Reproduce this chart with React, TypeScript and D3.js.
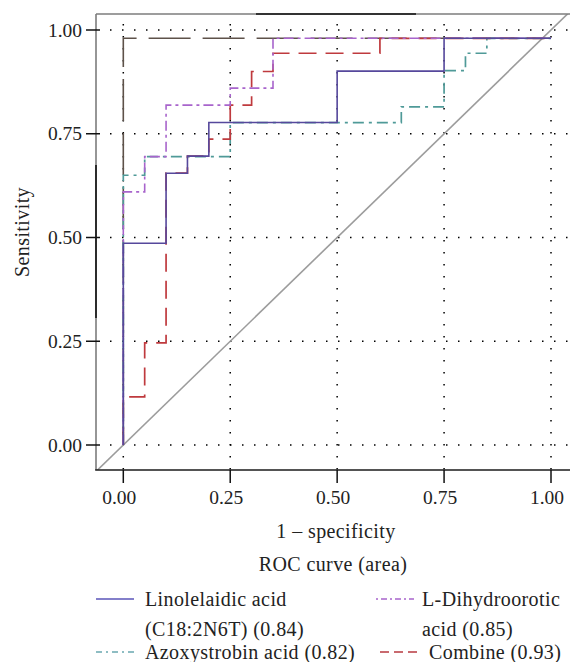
import * as d3 from 'd3';
import React, { useEffect, useRef } from 'react';

// ROC step points (1 - specificity, sensitivity)
const linoFpr = [0, 0, 0.1, 0.15, 0.2, 0.5, 0.75, 1.0];
const linoTpr = [0, 0.486, 0.655, 0.696, 0.777, 0.901, 0.98, 0.98];

const dihydroFpr = [0, 0, 0.05, 0.1, 0.25, 0.35, 1.0];
const dihydroTpr = [0, 0.61, 0.695, 0.819, 0.86, 0.98, 0.98];

const azoxFpr = [0, 0, 0.05, 0.25, 0.65, 0.75, 0.8, 0.85, 1.0];
const azoxTpr = [0, 0.65, 0.695, 0.777, 0.815, 0.902, 0.944, 0.98, 0.98];

const combineFpr = [0, 0, 0.05, 0.1, 0.15, 0.2, 0.25, 0.3, 0.35, 0.6, 1.0];
const combineTpr = [0, 0.116, 0.246, 0.655, 0.696, 0.737, 0.819, 0.9, 0.944, 0.98, 0.98];

// unlabelled long-dash trace along the left and top
const extraFpr = [0, 0, 1.0];
const extraTpr = [0, 0.98, 0.98];

const tickValues = [0, 0.25, 0.5, 0.75, 1.0];
const tickLabels = ['0.00', '0.25', '0.50', '0.75', '1.00'];

const legendNames = [
  ['Linolelaidic acid', '(C18:2N6T) (0.84)'],
  ['L-Dihydroorotic', 'acid (0.85)'],
  ['Azoxystrobin acid (0.82)'],
  ['Combine (0.93)'],
];

const FONT = '"Liberation Serif", "Times New Roman", serif';

const App: React.FC = () => {
  const ref = useRef<SVGSVGElement | null>(null);

  useEffect(() => {
    if (!ref.current) return;
    const svg = d3.select(ref.current);
    svg.selectAll('*').remove();

    const W = 570;
    const plot = { left: 96, top: 14, right: 575, bottom: 470 };

    const x = d3.scaleLinear().domain([0, 1]).range([123.3, 551]);
    const y = d3.scaleLinear().domain([0, 1]).range([445, 30]);

    svg
      .append('defs')
      .append('clipPath')
      .attr('id', 'plotclip')
      .append('rect')
      .attr('x', plot.left)
      .attr('y', plot.top)
      .attr('width', plot.right - plot.left)
      .attr('height', plot.bottom - plot.top);

    // dotted grid
    const grid = svg.append('g');
    grid
      .selectAll('line.h')
      .data(tickValues)
      .enter()
      .append('line')
      .attr('x1', plot.left + 14)
      .attr('x2', W)
      .attr('y1', (d) => y(d))
      .attr('y2', (d) => y(d))
      .attr('stroke', '#000')
      .attr('stroke-width', 1.5)
      .attr('stroke-dasharray', '1.5 10.5');
    grid
      .selectAll('line.v')
      .data(tickValues)
      .enter()
      .append('line')
      .attr('x1', (d) => x(d))
      .attr('x2', (d) => x(d))
      .attr('y1', plot.top + 10)
      .attr('y2', plot.bottom)
      .attr('stroke', '#000')
      .attr('stroke-width', 1.5)
      .attr('stroke-dasharray', '1.5 10.5');

    const g = svg.append('g').attr('clip-path', 'url(#plotclip)');

    // chance diagonal
    g.append('line')
      .attr('x1', x(-0.1))
      .attr('y1', y(-0.1))
      .attr('x2', x(1.1))
      .attr('y2', y(1.1))
      .attr('stroke', '#9c9c9c')
      .attr('stroke-width', 1.6);

    const line = d3
      .line<[number, number]>()
      .x((d) => x(d[0]))
      .y((d) => y(d[1]))
      .curve(d3.curveStepAfter);

    const zip = (a: number[], b: number[]) =>
      a.map((v, i) => [v, b[i]] as [number, number]);

    const series = [
      { pts: zip(extraFpr, extraTpr), color: '#5e524a', dash: '42 12', w: 1.6 },
      { pts: zip(azoxFpr, azoxTpr), color: '#4f9a98', dash: '11 5 3 5', w: 1.7 },
      { pts: zip(combineFpr, combineTpr), color: '#bf3a3e', dash: '18 9', w: 1.7 },
      { pts: zip(dihydroFpr, dihydroTpr), color: '#a864cc', dash: '10 4 3 4', w: 1.6 },
      { pts: zip(linoFpr, linoTpr), color: '#56489c', dash: null, w: 1.6 },
    ];

    series.forEach((s) => {
      g.append('path')
        .datum(s.pts)
        .attr('fill', 'none')
        .attr('stroke', s.color)
        .attr('stroke-width', s.w)
        .attr('stroke-dasharray', s.dash)
        .attr('d', line);
    });

    // frame
    svg
      .append('line')
      .attr('x1', plot.left)
      .attr('x2', W)
      .attr('y1', plot.top)
      .attr('y2', plot.top)
      .attr('stroke', '#7c7c7c')
      .attr('stroke-width', 1.6);
    svg
      .append('line')
      .attr('x1', 256)
      .attr('x2', 416)
      .attr('y1', plot.top)
      .attr('y2', plot.top)
      .attr('stroke', '#111')
      .attr('stroke-width', 1.6);
    svg
      .append('line')
      .attr('x1', plot.left)
      .attr('x2', plot.left)
      .attr('y1', plot.top)
      .attr('y2', plot.bottom)
      .attr('stroke', '#7c7c7c')
      .attr('stroke-width', 1.6);
    svg
      .append('line')
      .attr('x1', plot.left)
      .attr('x2', plot.left)
      .attr('y1', 165)
      .attr('y2', 318)
      .attr('stroke', '#111')
      .attr('stroke-width', 1.6);
    svg
      .append('line')
      .attr('x1', plot.left - 0.8)
      .attr('x2', W)
      .attr('y1', plot.bottom)
      .attr('y2', plot.bottom)
      .attr('stroke', '#1a1a1a')
      .attr('stroke-width', 1.6);

    // x ticks and labels
    const xt = svg.append('g');
    xt.selectAll('line')
      .data(tickValues)
      .enter()
      .append('line')
      .attr('x1', (d) => x(d))
      .attr('x2', (d) => x(d))
      .attr('y1', plot.bottom)
      .attr('y2', plot.bottom + 13)
      .attr('stroke', '#111')
      .attr('stroke-width', 1.5);
    xt.selectAll('text')
      .data(tickValues)
      .enter()
      .append('text')
      .attr('x', (d) => x(d) - 4)
      .attr('y', 504)
      .attr('text-anchor', 'middle')
      .style('font-family', FONT)
      .style('font-size', '19.5px')
      .attr('fill', '#222')
      .text((d, i) => tickLabels[i]);

    // y ticks and labels
    const yt = svg.append('g');
    yt.selectAll('line')
      .data(tickValues)
      .enter()
      .append('line')
      .attr('x1', 86)
      .attr('x2', plot.left + 4)
      .attr('y1', (d) => y(d))
      .attr('y2', (d) => y(d))
      .attr('stroke', '#111')
      .attr('stroke-width', 1.5);
    yt.selectAll('text')
      .data(tickValues)
      .enter()
      .append('text')
      .attr('x', 82)
      .attr('y', (d) => y(d) + 6.5)
      .attr('text-anchor', 'end')
      .style('font-family', FONT)
      .style('font-size', '19.5px')
      .attr('fill', '#222')
      .text((d, i) => tickLabels[i]);

    const label = (sel: d3.Selection<SVGTextElement, unknown, null, undefined>) =>
      sel
        .style('font-family', FONT)
        .style('font-size', '20px')
        .style('letter-spacing', '0.4px')
        .attr('fill', '#222');

    // axis titles
    svg
      .append('text')
      .attr('x', 336)
      .attr('y', 538)
      .attr('text-anchor', 'middle')
      .call(label)
      .text('1 \u2013 specificity');
    svg
      .append('text')
      .attr('x', 333)
      .attr('y', 571)
      .attr('text-anchor', 'middle')
      .call(label)
      .text('ROC curve (area)');
    svg
      .append('text')
      .attr('transform', 'translate(29, 232) rotate(-90)')
      .attr('text-anchor', 'middle')
      .call(label)
      .text('Sensitivity');

    // legend
    const legendItems = [
      { names: legendNames[0], color: '#5a55b8', dash: null, lx: 96, tx: 145, y: 606 },
      { names: legendNames[1], color: '#a864cc', dash: '2 3 6 3', lx: 376, tx: 422, y: 606 },
      { names: legendNames[2], color: '#6aa8b0', dash: '6 4 2 4', lx: 96, tx: 145, y: 659 },
      { names: legendNames[3], color: '#b83a40', dash: '9 5', lx: 380, tx: 429, y: 659 },
    ];
    legendItems.forEach((it) => {
      svg
        .append('line')
        .attr('x1', it.lx)
        .attr('x2', it.lx + 38)
        .attr('y1', it.y - 7)
        .attr('y2', it.y - 7)
        .attr('stroke', it.color)
        .attr('stroke-width', 1.5)
        .attr('stroke-dasharray', it.dash);
      it.names.forEach((n, i) => {
        svg
          .append('text')
          .attr('x', it.tx)
          .attr('y', it.y + i * 30)
          .call(label)
          .text(n);
      });
    });
  }, []);

  return (
    <svg
      ref={ref}
      width={570}
      height={662}
      style={{ position: 'absolute', left: 0, top: 0, background: '#fff' }}
    />
  );
};

export default App;
